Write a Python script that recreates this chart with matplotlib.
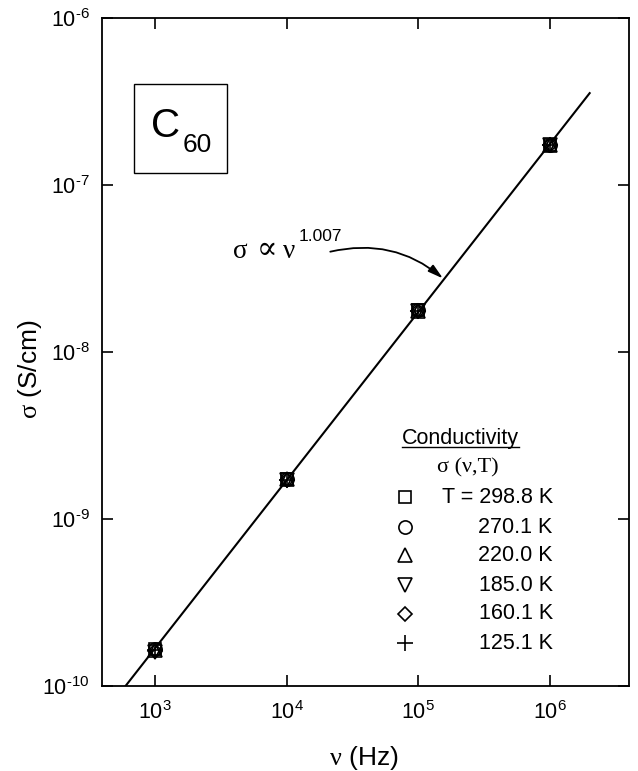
import numpy as np
import matplotlib
matplotlib.use("Agg")
import matplotlib.pyplot as plt
from matplotlib.patches import Rectangle
from matplotlib.ticker import FixedLocator, FuncFormatter, NullLocator

plt.rcParams['font.family'] = ['Liberation Sans', 'DejaVu Sans']
plt.rcParams['mathtext.fontset'] = 'custom'
plt.rcParams['mathtext.rm'] = 'Liberation Sans'
plt.rcParams['mathtext.it'] = 'Liberation Serif'
plt.rcParams['mathtext.bf'] = 'Liberation Sans:bold'

SERIF = ['Liberation Serif', 'DejaVu Serif']
HYPHEN = '\u2010'

# frequencies (Hz) and measured ac conductivity (S/cm) at each temperature
freq = [1e3, 1e4, 1e5, 1e6]
temps = [298.8, 270.1, 220.0, 185.0, 160.1, 125.1]
sigma_298 = [1.68e-10, 1.74e-9, 1.78e-8, 1.74e-7]
sigma_270 = [1.66e-10, 1.73e-9, 1.78e-8, 1.74e-7]
sigma_220 = [1.65e-10, 1.73e-9, 1.77e-8, 1.73e-7]
sigma_185 = [1.61e-10, 1.72e-9, 1.77e-8, 1.73e-7]
sigma_160 = [1.63e-10, 1.72e-9, 1.77e-8, 1.73e-7]
sigma_125 = [1.64e-10, 1.72e-9, 1.77e-8, 1.73e-7]
all_sigma = [sigma_298, sigma_270, sigma_220, sigma_185, sigma_160, sigma_125]
temp_labels = ['T = 298.8 K', '270.1 K', '220.0 K', '185.0 K', '160.1 K', '125.1 K']

# power law exponent and range of the fitted line
exponent = 1.007
fit_range = [5e2, 2e6]

markers = ['s', 'o', '^', 'v', 'D', '+']
msizes = [8.5, 9.5, 9.5, 9.5, 7.5, 11]

fig = plt.figure(figsize=(6.38, 7.71), dpi=100)
ax = fig.add_axes([0.160, 0.110, 0.826, 0.867])

# fit sigma = A * nu^exponent to all points
lognu = np.log10(np.tile(freq, len(all_sigma)))
logsig = np.log10(np.concatenate(all_sigma))
logA = np.mean(logsig - exponent * lognu)
nu_fit = np.logspace(np.log10(fit_range[0]), np.log10(fit_range[1]), 50)
ax.plot(nu_fit, 10 ** logA * nu_fit ** exponent, color='black', lw=1.5, zorder=2)

for s, m, ms in zip(all_sigma, markers, msizes):
    ax.plot(freq, s, linestyle='none', marker=m, ms=ms, mfc='none',
            mec='black', mew=1.2, zorder=3)

ax.set_xscale('log')
ax.set_yscale('log')
ax.set_xlim(10 ** 2.6, 10 ** 6.6)
ax.set_ylim(1e-10, 1e-6)


def decade_label(v, pos):
    e = int(round(np.log10(v)))
    if e < 0:
        return '$\\mathrm{10^{' + HYPHEN + '%d}}$' % (-e)
    return '$\\mathrm{10^{%d}}$' % e


ax.xaxis.set_major_locator(FixedLocator([1e3, 1e4, 1e5, 1e6]))
ax.yaxis.set_major_locator(FixedLocator([1e-10, 1e-9, 1e-8, 1e-7, 1e-6]))
ax.xaxis.set_minor_locator(NullLocator())
ax.yaxis.set_minor_locator(NullLocator())
ax.xaxis.set_major_formatter(FuncFormatter(decade_label))
ax.yaxis.set_major_formatter(FuncFormatter(decade_label))
ax.tick_params(which='major', direction='in', length=8, width=1.2,
               top=True, right=True, labelsize=15.5)
ax.tick_params(axis='x', pad=11)
ax.tick_params(axis='y', pad=9)
for sp in ax.spines.values():
    sp.set_linewidth(1.3)

ax.set_xlabel(r'$\nu$ (Hz)', fontsize=19, va='center')
ax.xaxis.set_label_coords(0.497, -0.108)
ax.set_ylabel(r'$\sigma$ (S/cm)', fontsize=19, va='center')
ax.yaxis.set_label_coords(-0.137, 0.474)

# sample label box
ax.add_patch(Rectangle((0.061, 0.768), 0.176, 0.133, transform=ax.transAxes,
                       fill=False, ec='black', lw=1.0))
ax.text(0.093, 0.822, 'C', transform=ax.transAxes, fontsize=29, va='baseline')
ax.text(0.152, 0.799, '60', transform=ax.transAxes, fontsize=19, va='baseline')

# power law annotation: sigma ~ nu^exponent
for x, sym, fs in [(0.2486, 'σ', 19.5), (0.294, '∝', 22), (0.3435, 'ν', 19.5)]:
    ax.text(x, 0.641, sym, transform=ax.transAxes, fontsize=fs,
            va='baseline', family=SERIF)
ax.text(0.373, 0.672, '%.3f' % exponent, transform=ax.transAxes, fontsize=12.5,
        va='center')
ax.annotate('', xy=(1.57e5, 2.72e-8), xytext=(0.433, 0.650),
            textcoords='axes fraction',
            arrowprops=dict(arrowstyle='-|>,head_length=0.9,head_width=0.25',
                            color='black', lw=1.3, shrinkA=0, shrinkB=1,
                            connectionstyle='arc3,rad=-0.25'))

# temperature key
title = ax.text(0.569, 0.371, 'Conductivity', transform=ax.transAxes,
                fontsize=15.5, va='center')
ax.text(0.636, 0.326, 'σ (ν,T)', transform=ax.transAxes, fontsize=16,
        va='center', family=SERIF)
row_y = [0.283, 0.238, 0.196, 0.151, 0.108, 0.064]
for y, m, ms, lab in zip(row_y, markers, msizes, temp_labels):
    ax.plot([0.575], [y], transform=ax.transAxes, marker=m, ms=ms,
            mfc='none', mec='black', mew=1.2, linestyle='none', clip_on=False)
    ax.text(0.855, y, lab, transform=ax.transAxes, fontsize=15.5,
            va='center', ha='right')

# underline the key title
fig.canvas.draw()
bb = title.get_window_extent().transformed(ax.transAxes.inverted())
ax.plot([bb.x0, bb.x1], [bb.y0 + 0.002, bb.y0 + 0.002], transform=ax.transAxes,
        color='black', lw=1.0)

fig.savefig('out.png', dpi=100)
